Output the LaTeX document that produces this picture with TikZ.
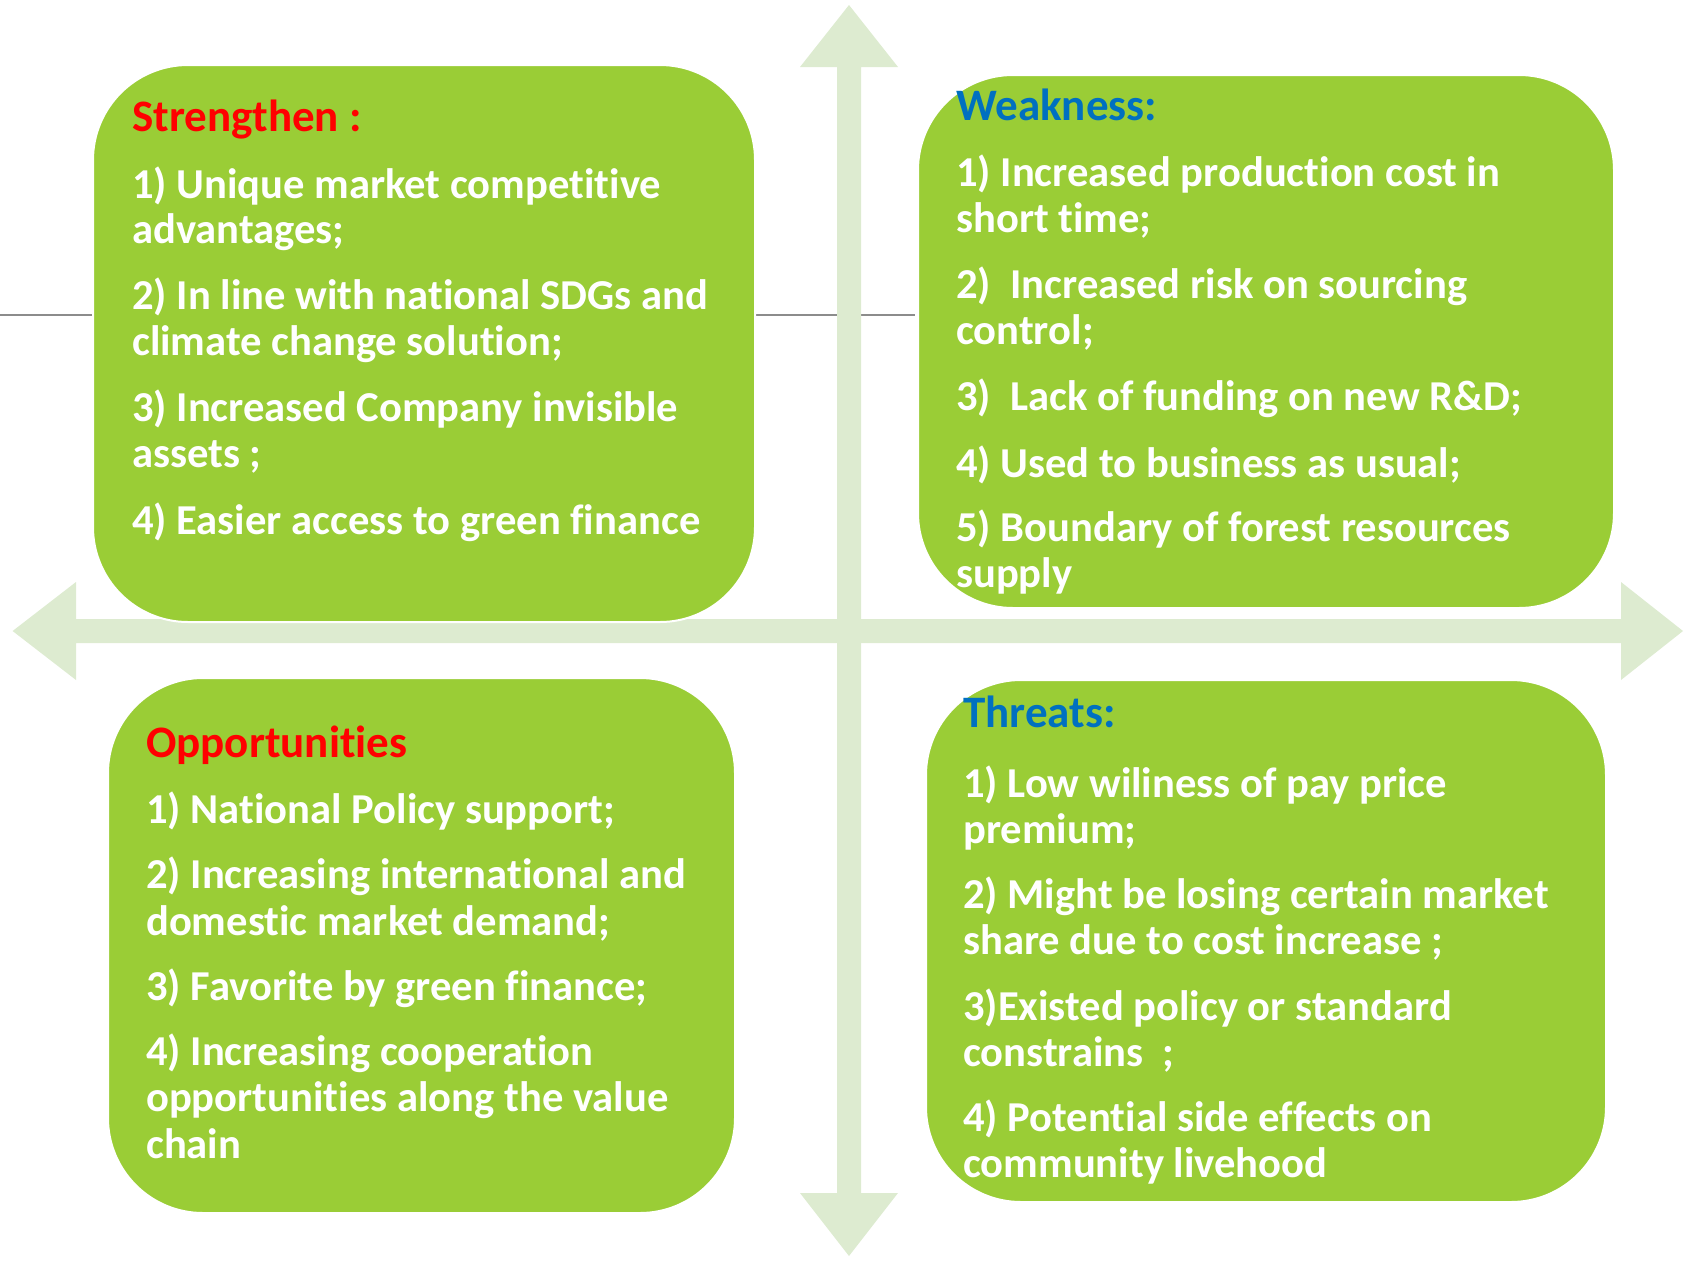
\documentclass[tikz,border=0pt]{standalone}
\usepackage{fontspec}
\setmainfont{Carlito}[Ligatures=NoCommon]
\definecolor{boxgreen}{HTML}{9ACD36}
\definecolor{arrowgreen}{HTML}{DDEBD0}
\definecolor{titlered}{HTML}{FF0000}
\definecolor{titleblue}{HTML}{0070C0}
\definecolor{rulegray}{HTML}{8C8C8C}
\tikzset{
  quadbox/.style={draw=white, line width=2pt, fill=boxgreen, rounded corners=95pt, inner sep=0pt, anchor=north west},
  itemtxt/.style={anchor=base west, inner sep=0pt, text=white, font=\fontsize{42.6}{46}\selectfont\bfseries},
  titletxt/.style={anchor=base west, inner sep=0pt, font=\fontsize{45}{48}\selectfont\bfseries},
  axisarrow/.style={fill=arrowgreen, draw=none},
  hairline/.style={draw=rulegray, line width=1.5pt}
}
\begin{document}
\begin{tikzpicture}[x=1pt,y=-1pt]
\useasboundingbox (0,0) rectangle (1690,1261);
% gray line behind everything
\coordinate (gl0) at (0,315);
\coordinate (gl1) at (915,315);
\draw[hairline] (gl0) -- (gl1);
% axis arrows
\path[axisarrow] (849,5) -- (898,67) -- (861,67) -- (861,1193) -- (898,1193) -- (849,1256)
  -- (800,1193) -- (837,1193) -- (837,67) -- (800,67) -- cycle;
\path[axisarrow] (12.6,631) -- (76,582) -- (76,619) -- (1621,619) -- (1621,582) -- (1683,631)
  -- (1621,680) -- (1621,643) -- (76,643) -- (76,680) -- cycle;
% boxes
\node[quadbox, minimum width=662pt, minimum height=557pt] (S) at (92,64) {};
\node[quadbox, minimum width=696pt, minimum height=533pt] (W) at (917,74) {};
\node[quadbox, minimum width=627pt, minimum height=535pt] (O) at (107,677) {};
\node[quadbox, minimum width=680pt, minimum height=522pt] (T) at (925,679) {};
% Strength
\node[titletxt, text=titlered] (s0) at (132,131.5) {Strengthen :};
\node[itemtxt] (s1) at (132,198) {1) Unique market competitive};
\node[itemtxt] (s2) at (132,243) {advantages;};
\node[itemtxt] (s3) at (132,309) {2) In line with national SDGs and};
\node[itemtxt] (s4) at (132,355) {climate change solution;};
\node[itemtxt] (s5) at (132,421) {3) Increased Company invisible};
\node[itemtxt] (s6) at (132,467) {assets ;};
\node[itemtxt] (s7) at (132,534) {4) Easier access to green finance};
% Weakness
\node[titletxt, text=titleblue] (w0) at (956,120) {Weakness:};
\node[itemtxt] (w1) at (956,186) {1) Increased production cost in};
\node[itemtxt] (w2) at (956,232) {short time;};
\node[itemtxt] (w3) at (956,298) {2) \ Increased risk on sourcing};
\node[itemtxt] (w4) at (956,344) {control;};
\node[itemtxt] (w5) at (956,410) {3) \ Lack of funding on new R\&D;};
\node[itemtxt] (w6) at (956,477) {4) Used to business as usual;};
\node[itemtxt] (w7) at (956,541) {5) Boundary of forest resources};
\node[itemtxt] (w8) at (956,587) {supply};
% Opportunities
\node[titletxt, text=titlered] (o0) at (146,757) {Opportunities};
\node[itemtxt] (o1) at (146,823) {1) National Policy support;};
\node[itemtxt] (o2) at (146,888) {2) Increasing international and};
\node[itemtxt] (o3) at (146,935) {domestic market demand;};
\node[itemtxt] (o4) at (146,1000) {3) Favorite by green finance;};
\node[itemtxt] (o5) at (146,1065) {4) Increasing cooperation};
\node[itemtxt] (o6) at (146,1111) {opportunities along the value};
\node[itemtxt] (o7) at (146,1158) {chain};
% Threats
\node[titletxt, text=titleblue] (t0) at (963,727) {Threats:};
\node[itemtxt] (t1) at (963,797) {1) Low wiliness of pay price};
\node[itemtxt] (t2) at (963,843) {premium;};
\node[itemtxt] (t3) at (963,908) {2) Might be losing certain market};
\node[itemtxt] (t4) at (963,954) {share due to cost increase ;};
\node[itemtxt] (t5) at (963,1020) {3)Existed policy or standard};
\node[itemtxt] (t6) at (963,1066) {constrains \ ;};
\node[itemtxt] (t7) at (963,1131) {4) Potential side effects on};
\node[itemtxt] (t8) at (963,1177) {community livehood};
\end{tikzpicture}
\end{document}
